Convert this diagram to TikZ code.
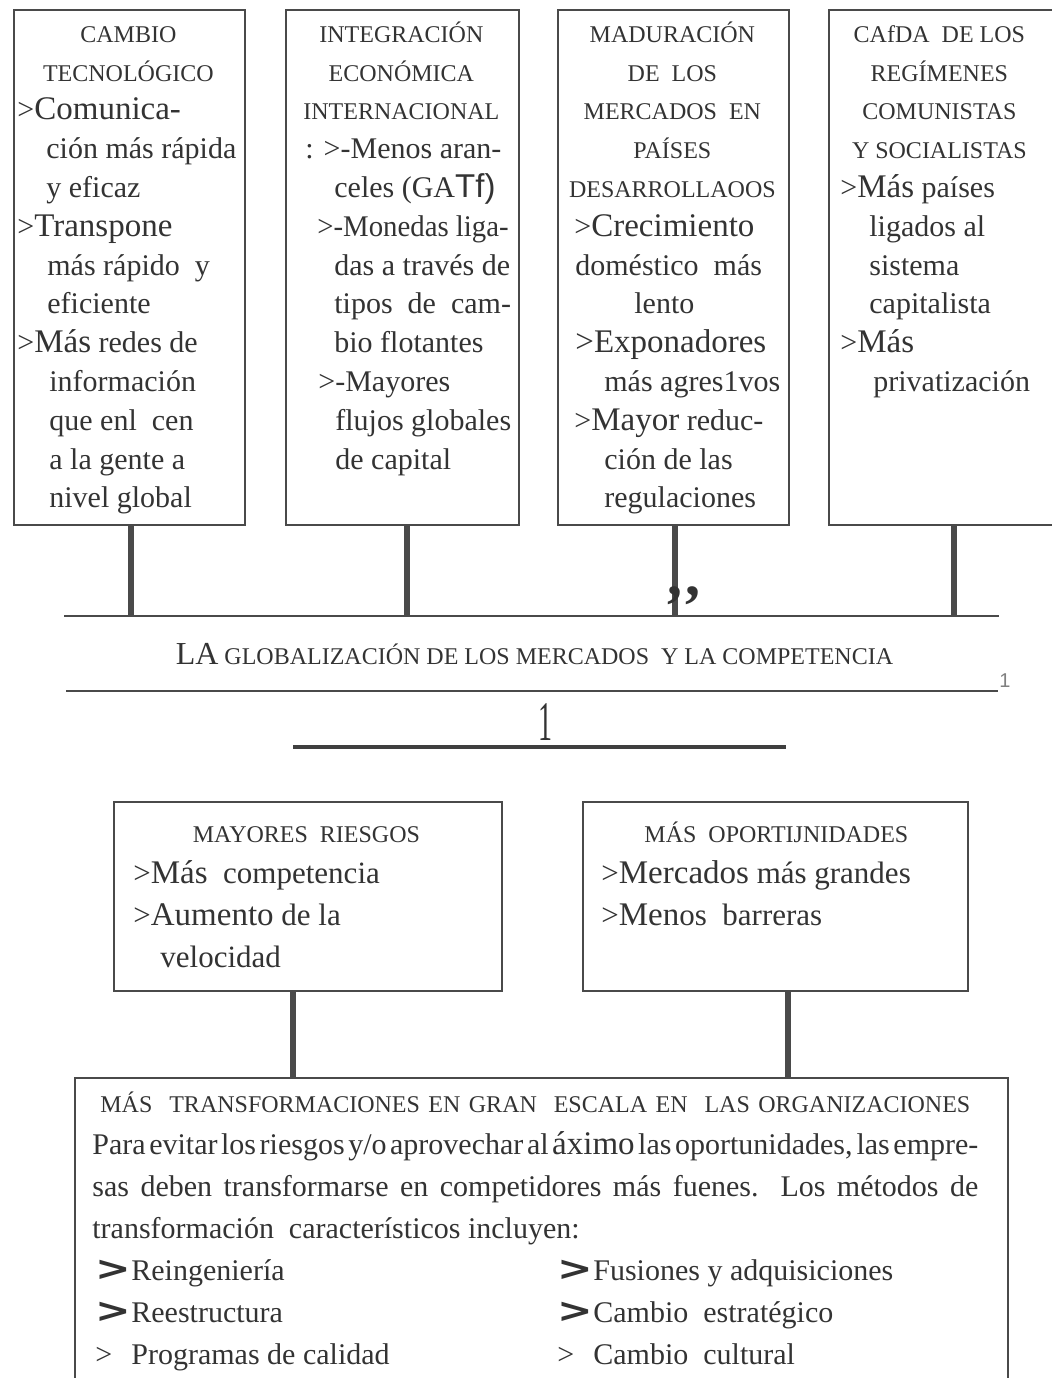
\documentclass[tikz,border=0pt]{standalone}
\usepackage{fontspec}
\setmainfont{Liberation Serif}
\setsansfont{Liberation Sans}
\newfontfamily\heavyfont{DejaVu Sans}

\definecolor{ink}{HTML}{333333}
\definecolor{edge}{HTML}{4A4A4A}

\newlength\colw
\newcommand\hd[1]{{\fontsize{12}{12}\selectfont #1}}
\newcommand\bw[1]{{\fontsize{16.5}{16.5}\selectfont #1}}
\newcommand\ctr[1]{\makebox[\colw]{#1}}
\newcommand\ind[1]{\hspace*{#1pt}}
\newcommand\gtb{\scalebox{1.25}[1]{\heavyfont\bfseries\fontsize{17}{17}\selectfont >}}
\newcommand\pick[3]{\makebox[232.5pt][l]{\hspace*{1.5pt}\makebox[18pt][l]{#1}#2}\makebox[18pt][l]{#1}#3}

\begin{document}
\begin{tikzpicture}[x=0.5pt,y=-0.5pt]
  \tikzstyle{every node}=[text=ink]
  \tikzstyle{panel}=[draw=edge, line width=1pt, rectangle, anchor=north west, inner sep=0pt]
  \tikzstyle{boxtext}=[anchor=north west, inner sep=0pt, align=left, font=\fontsize{15}{19.4}\selectfont]
  \tikzstyle{midtext}=[boxtext, font=\fontsize{15.5}{20.8}\selectfont]
  \tikzstyle{stem}=[draw=edge, line width=2.6pt]
  \tikzstyle{busline}=[draw=edge, line width=1.3pt]
  \tikzstyle{titlerule}=[draw=edge, line width=1.1pt]
  \tikzstyle{crossbar}=[draw=edge!85!black, line width=2.4pt]

  \useasboundingbox (0,0) rectangle (1052,1378);
  \clip (0,0) rectangle (1052,1378);

  % the four causes
  \node[panel, minimum width=115.5pt, minimum height=257.5pt] (cambio) at (13,9) {};
  \node[panel, minimum width=116.5pt, minimum height=257.5pt] (integracion) at (285,9) {};
  \node[panel, minimum width=115.5pt, minimum height=257.5pt] (maduracion) at (557,9) {};
  \node[panel, minimum width=126pt, minimum height=257.5pt] (caida) at (828,9) {};

  \node[boxtext, execute at begin node={\setlength\colw{111pt}}] (cambiotxt) at ([shift={(2pt,-2.9pt)}]cambio.north west) {%
    \noindent\strut\ctr{\hd{CAMBIO}}\\
    \ctr{\hd{TECNOLÓGICO}}\\
    >\bw{Comunica-}\\
    \ind{14.5}ción más rápida\\
    \ind{14.5}y eficaz\\
    >\bw{Transpone}\\
    \ind{15}más rápido\ \ y\\
    \ind{15}eficiente\\
    >\bw{Más} redes de\\
    \ind{16}información\\
    \ind{16}que enl\ \ cen\\
    \ind{16}a la gente a\\
    \ind{16}nivel global};

  \node[boxtext, execute at begin node={\setlength\colw{112pt}}] (integraciontxt) at ([shift={(2pt,-2.9pt)}]integracion.north west) {%
    \noindent\strut\ctr{\hd{INTEGRACIÓN}}\\
    \ctr{\hd{ECONÓMICA}}\\
    \ctr{\hd{INTERNACIONAL}}\\
    \ind{8}: >-Menos aran-\\
    \ind{22.5}celes (GA\bw{\sffamily Tf)}\\
    \ind{14}\scalebox{0.96}[1]{>-Monedas liga-}\\
    \ind{22.5}das a través de\\
    \ind{22.5}tipos\ \ de\ \ cam-\\
    \ind{22.5}bio flotantes\\
    \ind{14.5}>-Mayores\\
    \ind{23}flujos globales\\
    \ind{23}de capital};

  \node[boxtext, execute at begin node={\setlength\colw{111pt}}] (maduraciontxt) at ([shift={(2pt,-2.9pt)}]maduracion.north west) {%
    \noindent\strut\ctr{\hd{MADURACIÓN}}\\
    \ctr{\hd{DE\ \ LOS}}\\
    \ctr{\hd{MERCADOS\ \ EN}}\\
    \ctr{\hd{PAÍSES}}\\
    \ctr{\hd{DESARROLLAOOS}}\\
    \ind{6.5}>\bw{Crecimiento}\\
    \ind{7}doméstico\ \ más\\
    \ind{36.5}lento\\
    \ind{7}\bw{>Exponadores}\\
    \ind{21.5}más agres1vos\\
    \ind{6.5}>\bw{Mayor} reduc-\\
    \ind{21.5}ción de las\\
    \ind{21.5}regulaciones};

  \node[boxtext, execute at begin node={\setlength\colw{107pt}}] (caidatxt) at ([shift={(2pt,-2.9pt)}]caida.north west) {%
    \noindent\strut\ctr{\hd{CAfDA\ \ DE LOS}}\\
    \ctr{\hd{REGÍMENES}}\\
    \ctr{\hd{COMUNISTAS}}\\
    \ctr{\hd{Y SOCIALISTAS}}\\
    \ind{4}>\bw{Más} países\\
    \ind{18.5}ligados al\\
    \ind{18.5}sistema\\
    \ind{18.5}capitalista\\
    \ind{4}>\bw{Más}\\
    \ind{20.5}privatización};

  % bus and title
  \coordinate (busL) at (64,616);
  \coordinate (busR) at (999,616);
  \coordinate (tap1) at (131,616);
  \coordinate (tap2) at (407,616);
  \coordinate (tap3) at (675,616);
  \coordinate (tap4) at (954,616);
  \draw[busline] (busL) -- (busR);
  \draw[stem] (cambio.south -| tap1) -- (tap1);
  \draw[stem] (integracion.south -| tap2) -- (tap2);
  \draw[stem] (maduracion.south -| tap3) -- (tap3);
  \draw[stem] (caida.south -| tap4) -- (tap4);

  \node[anchor=base, inner sep=0pt, font=\bfseries\fontsize{30}{30}\selectfont] (commas) at (684,595) {,\hspace{2pt},};

  \node[anchor=base, inner sep=0pt] (globtxt) at (534.5,664)
    {{\fontsize{16}{16}\selectfont LA}\hd{ GLOBALIZACIÓN DE LOS MERCADOS\ \ Y LA COMPETENCIA}};

  \coordinate (ruleL) at (66,691);
  \coordinate (ruleR) at (998,691);
  \draw[titlerule] (ruleL) -- (ruleR);
  \node[anchor=base west, inner sep=0pt, text=gray, font=\sffamily\fontsize{10}{10}\selectfont] (smallone) at (999,687) {1};

  \node[anchor=base, inner sep=0pt, font=\fontsize{28}{28}\selectfont] (bigone) at (545,740) {\scalebox{0.5}[1]{1}};
  \coordinate (barL) at (293,747);
  \coordinate (barR) at (786,747);
  \draw[crossbar] (barL) -- (barR);

  % risks and opportunities
  \node[panel, minimum width=194pt, minimum height=94.5pt] (riesgos) at (113,801) {};
  \node[panel, minimum width=192.5pt, minimum height=94.5pt] (oport) at (582,801) {};

  \node[midtext, execute at begin node={\setlength\colw{189pt}}] (riesgostxt) at ([shift={(2pt,-5.9pt)}]riesgos.north west) {%
    \noindent\strut\ctr{\hd{MAYORES\ \ RIESGOS}}\\
    \ind{8}>\bw{Más}\ \ competencia\\
    \ind{8}>\bw{Aumento} de la\\
    \ind{21.5}velocidad};

  \node[midtext, execute at begin node={\setlength\colw{190pt}}] (oporttxt) at ([shift={(2pt,-5.9pt)}]oport.north west) {%
    \noindent\strut\ctr{\hd{MÁS\ \ OPORTIJNIDADES}}\\
    \ind{7.5}>\bw{Mercados} más grandes\\
    \ind{7.5}>\bw{Men}os\ \ barreras};

  % transformations
  \node[panel, minimum width=466.5pt, minimum height=161.5pt] (transf) at (74,1077) {};
  \coordinate (tapA) at (293,0);
  \coordinate (tapB) at (788,0);
  \draw[stem] (riesgos.south -| tapA) -- (transf.north -| tapA);
  \draw[stem] (oport.south -| tapB) -- (transf.north -| tapB);

  \node[boxtext, font=\fontsize{15}{21}\selectfont, execute at begin node={\setlength\colw{443pt}}] (transftxt) at ([shift={(9pt,-2.8pt)}]transf.north west) {%
    \noindent\strut\ctr{\makebox[435pt][s]{\hd{MÁS\ \ TRANSFORMACIONES EN GRAN\ \ ESCALA EN\ \ LAS ORGANIZACIONES}}}\\
    \makebox[\colw][s]{\spaceskip=1pt plus 30pt Para evitar los riesgos y/o aprovechar al \bw{áximo} las oportunidades, las empre-}\\
    \makebox[\colw][s]{sas deben transformarse en competidores más fuenes. Los métodos de}\\
    transformación\ \ característicos incluyen:\\
    \pick{\gtb}{Reingeniería}{Fusiones y adquisiciones}\\
    \pick{\gtb}{Reestructura}{Cambio\ \ estratégico}\\
    \pick{>}{Programas de calidad}{Cambio\ \ cultural}};

\end{tikzpicture}
\end{document}
